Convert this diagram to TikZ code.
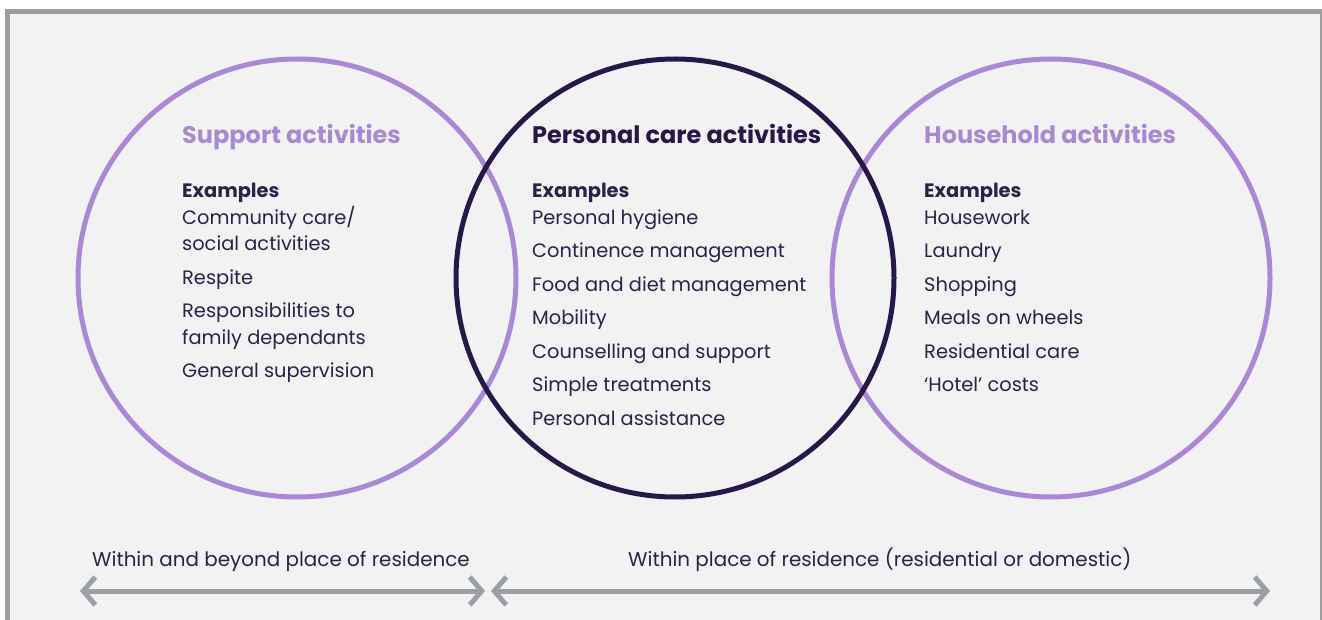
\documentclass[tikz,border=0pt]{standalone}
\usepackage{fontspec}
\setmainfont{Poppins}
\usetikzlibrary{arrows.meta}
\definecolor{lilac}{RGB}{170,136,212}
\definecolor{plum}{RGB}{40,24,72}
\definecolor{ink}{RGB}{46,33,72}
\definecolor{panel}{RGB}{242,242,242}
\definecolor{rim}{RGB}{158,158,158}
\definecolor{span}{RGB}{155,160,168}

\begin{document}
\begin{tikzpicture}[x=1pt, y=-1pt,
   ring/.style={circle, draw, line width=5pt, minimum size=438pt, inner sep=0pt},
   side/.style={ring, draw=lilac},
   core/.style={ring, draw=plum},
   head/.style={anchor=base west, inner sep=0pt, font=\fontsize{24}{28}\selectfont\bfseries},
   list/.style={anchor=north west, inner sep=0pt, align=left, text=ink,
                font=\fontsize{19.4}{26.5}\selectfont},
   spanarrow/.style={line width=5pt, draw=span,
     {Straight Barb[length=12pt,width=28pt,line width=5pt]}-{Straight Barb[length=12pt,width=28pt,line width=5pt]}},
   note/.style={anchor=base west, inner sep=0pt, text=ink, font=\fontsize{19.9}{24}\selectfont}]
  \useasboundingbox (0,0) rectangle (1322,620);
  % panel with its grey rim
  \fill[rim] (5,9) rectangle (1322,620);
  \fill[panel] (10,14) rectangle (1320,620);
  \draw[rim, line width=1.5pt] (1320.5,14) -- (1320.5,620);

  % the three circles
  \node[side] (sup) at (297,278) {};
  \node[side] (hh) at (1051,278) {};
  \node[core] (pc) at (675,278) {};

  % headings
  \node[head, text=lilac] (suphead) at (182,144) {Support activities};
  \node[head, text=plum] (pchead) at (532,144) {Personal care activities};
  \node[head, text=lilac] (hhhead) at (924,144) {Household activities};

  % example lists
  \node[list] (suplist) at (182,183) {\textbf{Examples}\\
    Community care/\\social activities\\[7pt]
    Respite\\[7pt]
    Responsibilities to\\family dependants\\[7pt]
    General supervision};
  \node[list] (pclist) at (532,183) {\textbf{Examples}\\
    Personal hygiene\\[7pt]
    Continence management\\[7pt]
    Food and diet management\\[7pt]
    Mobility\\[7pt]
    Counselling and support\\[7pt]
    Simple treatments\\[7pt]
    Personal assistance};
  \node[list] (hhlist) at (924,183) {\textbf{Examples}\\
    Housework\\[7pt]
    Laundry\\[7pt]
    Shopping\\[7pt]
    Meals on wheels\\[7pt]
    Residential care\\[7pt]
    `Hotel' costs};

  % where the care takes place
  \node[note] (beyond) at (92,566) {Within and beyond place of residence};
  \node[note] (within) at (628,566) {Within place of residence (residential or domestic)};
  \coordinate (a) at (80,591);
  \coordinate (b) at (485,591);
  \coordinate (c) at (491,591);
  \coordinate (d) at (1270,591);
  \draw[spanarrow] (a) -- (b);
  \draw[spanarrow] (c) -- (d);
\end{tikzpicture}
\end{document}
